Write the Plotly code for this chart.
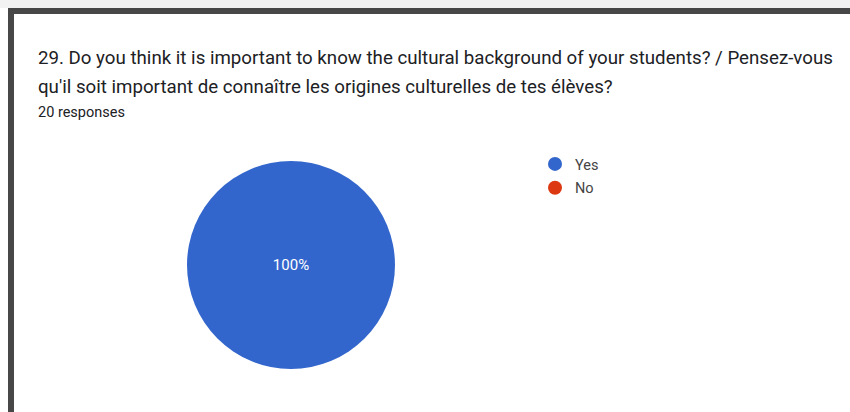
import plotly.graph_objects as go

categories = ["Yes", "No"]
values = [20, 0]
colors = ["#3366cc", "#dc3912"]
title_line1 = "29. Do you think it is important to know the cultural background of your students? / Pensez-vous"
title_line2 = "qu'il soit important de connaître les origines culturelles de tes élèves?"
subtitle = "20 responses"

W, H = 850, 412
def px(x): return x / W
def py(y): return 1 - y / H

fig = go.Figure()
fig.add_trace(go.Pie(
    labels=categories, values=values,
    marker=dict(colors=colors, line=dict(width=0)),
    texttemplate=["%{percent:.0%}", ""],
    textposition="inside",
    textfont=dict(family="Roboto", size=15, color="white"),
    insidetextorientation="horizontal",
    sort=False, direction="clockwise",
    showlegend=False,
    domain=dict(x=[px(187), px(395)], y=[py(373), py(157)]),
    hoverinfo="label+percent",
))
for c, col in zip(categories, colors):
    fig.add_trace(go.Scatter(x=[None], y=[None], mode="markers", name=c,
                             legendgroup=c,
                             marker=dict(symbol="circle", size=14, color=col)))

shapes = [
    dict(type="rect", xref="paper", yref="paper", x0=0, x1=1, y0=py(8), y1=1,
         fillcolor="#f2f2f2", line=dict(width=0), layer="below"),
    dict(type="rect", xref="paper", yref="paper", x0=px(8), x1=1, y0=py(14), y1=py(8),
         fillcolor="#474747", line=dict(width=0), layer="below"),
    dict(type="rect", xref="paper", yref="paper", x0=px(8), x1=px(14), y0=0, y1=py(8),
         fillcolor="#474747", line=dict(width=0), layer="below"),
]
annotations = [
    dict(text=title_line1, x=px(36), y=py(58), xref="paper", yref="paper",
         xanchor="left", yanchor="middle", showarrow=False,
         font=dict(family="Roboto", size=18.7, color="#202124")),
    dict(text=title_line2, x=px(36), y=py(87), xref="paper", yref="paper",
         xanchor="left", yanchor="middle", showarrow=False,
         font=dict(family="Roboto", size=18.7, color="#202124")),
    dict(text=subtitle, x=px(36), y=py(112), xref="paper", yref="paper",
         xanchor="left", yanchor="middle", showarrow=False,
         font=dict(family="Roboto", size=14.5, color="#202124")),
]
fig.update_layout(
    width=W, height=H,
    margin=dict(l=0, r=0, t=0, b=0),
    paper_bgcolor="white", plot_bgcolor="rgba(0,0,0,0)",
    xaxis=dict(visible=False), yaxis=dict(visible=False),
    shapes=shapes, annotations=annotations,
    legend=dict(x=px(535), y=py(148), xanchor="left", yanchor="top",
                font=dict(family="Roboto", size=14.5, color="#444"),
                itemwidth=30, tracegroupgap=2, bgcolor="rgba(0,0,0,0)"),
)
fig.write_html("out.html", config={"displayModeBar": False},
               post_script="document.body.style.margin='0';document.body.style.overflow='hidden';")
